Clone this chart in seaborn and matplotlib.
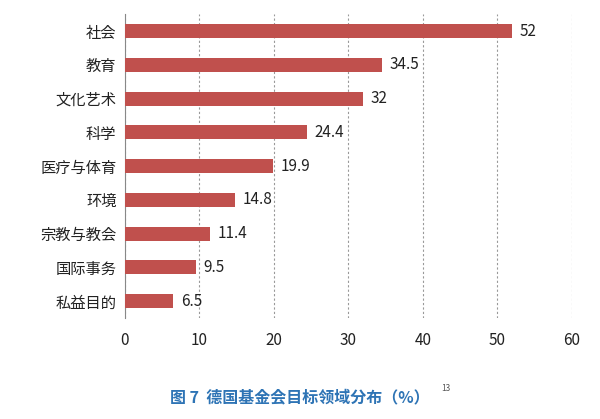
import matplotlib.pyplot as plt
import pandas as pd
import seaborn as sns

plt.rcParams["font.family"] = ["Noto Sans CJK JP", "Noto Sans CJK SC", "DejaVu Sans"]

categories = ["社会", "教育", "文化艺术", "科学", "医疗与体育", "环境", "宗教与教会", "国际事务", "私益目的"]
values = [52, 34.5, 32, 24.4, 19.9, 14.8, 11.4, 9.5, 6.5]
labels = ["52", "34.5", "32", "24.4", "19.9", "14.8", "11.4", "9.5", "6.5"]
xticks = [0, 10, 20, 30, 40, 50, 60]

df = pd.DataFrame({"category": categories, "value": values})

fig = plt.figure(figsize=(6, 4.19), dpi=100)
ax = fig.add_axes([0.208, 0.241, 0.745, 0.725])
sns.barplot(data=df, x="value", y="category", color="#c0504d", width=0.42,
            saturation=1, ax=ax, zorder=3)

for i, (v, t) in enumerate(zip(values, labels)):
    ax.text(v + 1, i, t, va="center", ha="left", fontsize=11, color="#222222")

ax.set_xlim(0, 60)
ax.set_xticks(xticks)
ax.set_xlabel("")
ax.set_ylabel("")
ax.tick_params(axis="both", labelsize=11, length=0, colors="#222222")
ax.tick_params(axis="x", pad=10)
ax.tick_params(axis="y", pad=6)
ax.xaxis.grid(True, linestyle=(0, (2, 2)), color="#999999", linewidth=0.8, zorder=0)
for s in ["top", "right", "bottom"]:
    ax.spines[s].set_visible(False)
ax.spines["left"].set_color("#888888")

fig.text(0.5, 0.052, "图 7  德国基金会目标领域分布（%）", ha="center", va="center",
         fontsize=11.5, color="#2e74b5", fontweight="bold")
fig.text(0.735, 0.072, "13", fontsize=6, color="#555555", va="center")

fig.savefig("out.png", dpi=100)
